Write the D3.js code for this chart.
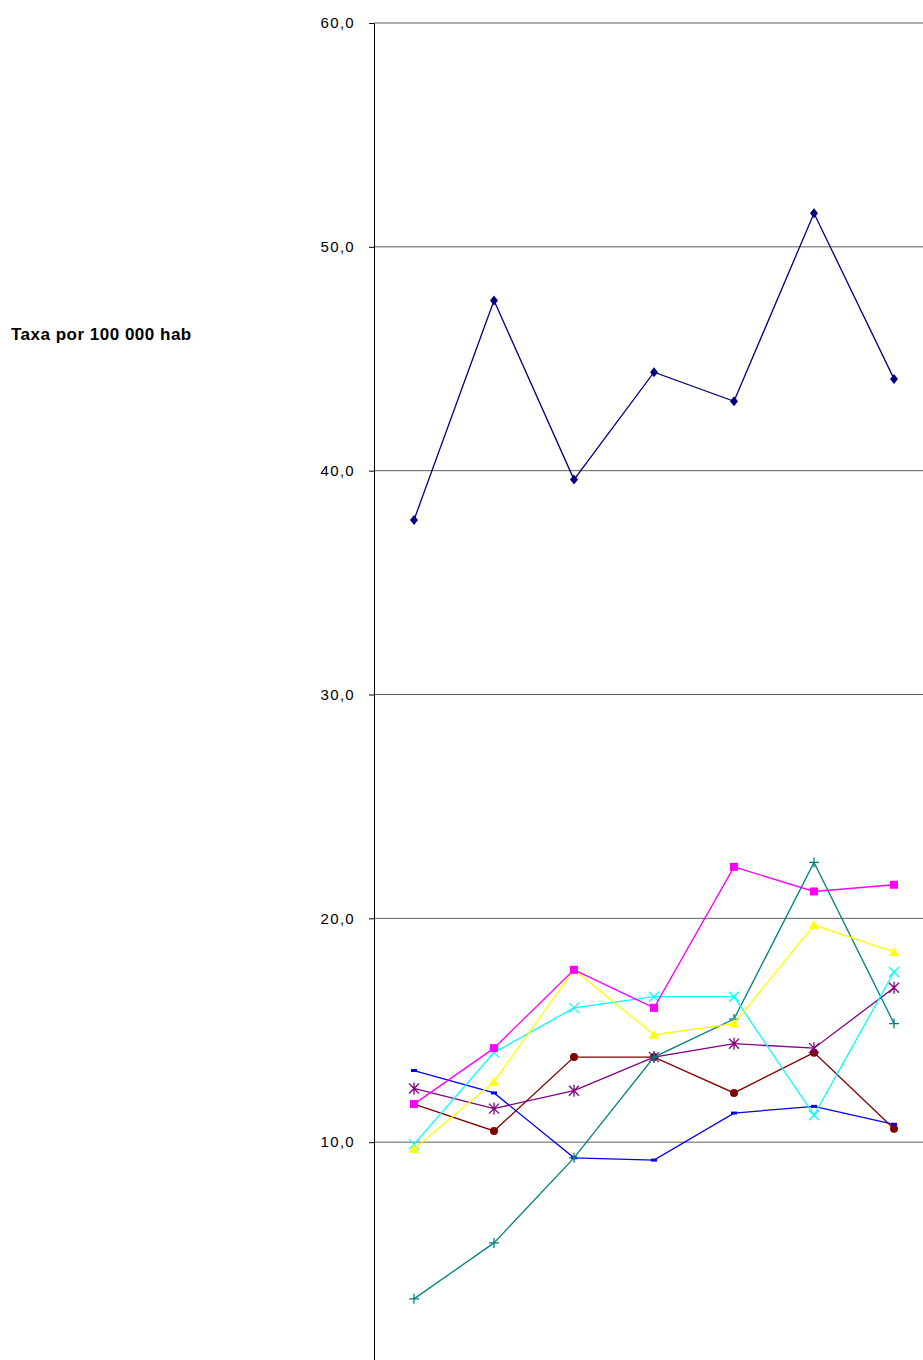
<!DOCTYPE html>
<meta charset="utf-8">
<script src="https://d3js.org/d3.v7.min.js"></script>
<style>body{margin:0;background:#fff}</style>
<div id="chart"></div>
<script>
    // data
    const years = ["1", "2", "3", "4", "5", "6", "7"];
    const yTicks = [0, 10, 20, 30, 40, 50, 60];
    const sNavy    = [37.8, 47.6, 39.6, 44.4, 43.1, 51.5, 44.1];
    const sMagenta = [11.7, 14.2, 17.7, 16.0, 22.3, 21.2, 21.5];
    const sYellow  = [9.7, 12.7, 17.7, 14.8, 15.3, 19.7, 18.5];
    const sCyan    = [9.9, 14.0, 16.0, 16.5, 16.5, 11.2, 17.6];
    const sTeal    = [3.0, 5.5, 9.3, 13.8, 15.5, 22.5, 15.3];
    const sPurple  = [12.4, 11.5, 12.3, 13.8, 14.4, 14.2, 16.9];
    const sBrown   = [11.7, 10.5, 13.8, 13.8, 12.2, 14.0, 10.6];
    const sBlue    = [13.2, 12.2, 9.3, 9.2, 11.3, 11.6, 10.8];

    const series = [
        {v: sBlue, c: "#0000ff", m: "dash"},
        {v: sBrown, c: "#800000", m: "circle"},
        {v: sPurple, c: "#800080", m: "star"},
        {v: sTeal, c: "#008080", m: "plus"},
        {v: sCyan, c: "#00ffff", m: "x"},
        {v: sYellow, c: "#ffff00", m: "triangle"},
        {v: sMagenta, c: "#ff00ff", m: "square"},
        {v: sNavy, c: "#000080", m: "diamond"}
    ];

    const W = 923, H = 1360;
    const font = "Arial, 'Liberation Sans', sans-serif";
    const svg = d3.select("#chart").append("svg")
        .attr("width", W).attr("height", H)
        .style("font-family", font);

    const x = d3.scaleBand().domain(years).range([374, 934]);
    const y = d3.scaleLinear().domain([0, 60]).range([1366, 23]);

    // gridlines
    svg.append("g").selectAll("line")
        .data(yTicks.filter(d => d > 0))
        .enter().append("line")
            .attr("x1", 374).attr("x2", W)
            .attr("y1", d => y(d)).attr("y2", d => y(d))
            .attr("stroke", "#333").attr("stroke-width", 0.8);

    // y axis
    const ax = svg.append("g")
        .attr("transform", "translate(374,0)")
        .call(d3.axisLeft(y).tickValues(yTicks).tickSize(5).tickPadding(14).tickSizeOuter(0)
            .tickFormat(d => d3.format(".1f")(d).replace(".", ",")));
    ax.select(".domain").attr("stroke", "#000");
    ax.selectAll("text").attr("font-size", "15px").attr("fill", "#000")
        .attr("letter-spacing", "1.3px").attr("font-family", font);

    svg.append("text")
        .text("Taxa por 100 000 hab")
        .attr("x", 11).attr("y", 340)
        .attr("font-size", "17px").attr("font-weight", "bold")
        .attr("letter-spacing", "0.5px");

    const line = d3.line()
        .x((d, i) => x(years[i]) + x.bandwidth() / 2)
        .y(d => y(d));

    function marker(g, m, c) {
        if (m === "dash") g.append("rect").attr("x", -3).attr("y", -1.5).attr("width", 6).attr("height", 3).attr("fill", c);
        if (m === "circle") g.append("circle").attr("r", 4).attr("fill", c);
        if (m === "square") g.append("rect").attr("x", -4).attr("y", -4).attr("width", 8).attr("height", 8).attr("fill", c);
        if (m === "diamond") g.append("path").attr("d", "M0,-5L4,0L0,5L-4,0Z").attr("fill", c);
        if (m === "triangle") g.append("path").attr("d", "M0,-5L5,4L-5,4Z").attr("fill", c);
        if (m === "plus") g.append("path").attr("d", "M-5,0H5M0,-5V5").attr("stroke", c).attr("stroke-width", 1.3);
        if (m === "x") g.append("path").attr("d", "M-5,-5L5,5M5,-5L-5,5").attr("stroke", c).attr("stroke-width", 1.3);
        if (m === "star") g.append("path").attr("d", "M-5,-5L5,5M5,-5L-5,5M0,-6V6").attr("stroke", c).attr("stroke-width", 1.3);
    }

    series.forEach(function(s) {
        svg.append("path").datum(s.v)
            .attr("d", line).attr("fill", "none")
            .attr("stroke", s.c).attr("stroke-width", 1.3);
        s.v.forEach(function(d, i) {
            const g = svg.append("g")
                .attr("transform", "translate(" + (x(years[i]) + x.bandwidth() / 2) + "," + y(d) + ")");
            marker(g, s.m, s.c);
        });
    });
</script>
